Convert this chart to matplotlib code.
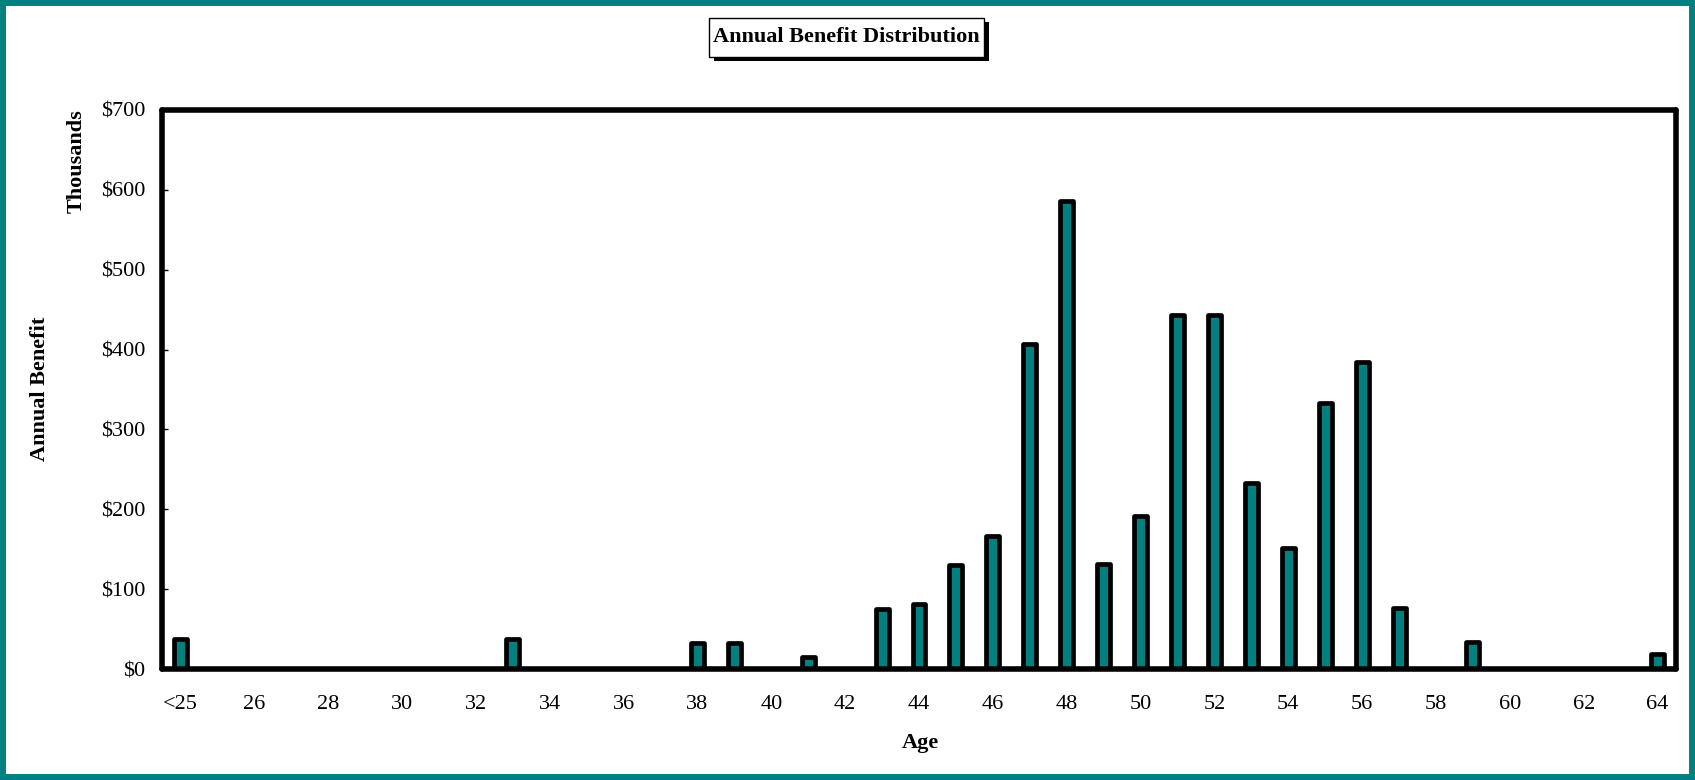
import matplotlib
matplotlib.use('Agg')
import matplotlib.pyplot as plt
from matplotlib.patches import Rectangle
import numpy as np

# annual benefit by age group, in thousands of dollars
ages = ['<25'] + [str(a) for a in range(25, 65)]
values = [37,                                  # <25
          0, 0, 0, 0, 0, 0, 0, 0,              # 25-32
          38,                                  # 33
          0, 0, 0, 0,                          # 34-37
          33, 33, 0, 15, 0, 75, 82, 130, 167,  # 38-46
          407, 586, 132, 192, 443, 443, 233,   # 47-53
          151, 333, 385, 77, 0, 34,            # 54-59
          0, 0, 0, 0,                          # 60-63
          19]                                  # 64
yticks = [0, 100, 200, 300, 400, 500, 600, 700]

teal = '#008080'
plt.rcParams['font.family'] = ['Liberation Serif', 'DejaVu Serif']

W, H = 1695, 780
fig = plt.figure(figsize=(W/100, H/100), dpi=100)
fig.patch.set_facecolor('white')

ax = fig.add_axes([162/W, 1-669/H, 1514/W, 559/H])
x = np.arange(len(ages))
bars = ax.bar(x, values, width=0.35, color=teal, edgecolor='black', linewidth=3.4, zorder=3)
for b in bars:
    b.set_joinstyle('round')
    if b.get_height() == 0:
        b.set_visible(False)

ax.set_xlim(-0.5, len(ages)-0.5)
ax.set_ylim(0, 700)
ax.set_yticks(yticks)
ax.set_yticklabels(['$%d' % v for v in yticks], fontsize=16)
ax.set_xticks(x[::2])
ax.set_xticklabels(ages[::2], fontsize=16)
ax.tick_params(axis='y', direction='in', length=4, width=1, pad=12)
ax.tick_params(axis='x', length=0, pad=19)
for s in ax.spines.values():
    s.set_linewidth(4)
    s.set_capstyle('round')
    s.set_zorder(4)

# axis titles
fig.text(40/W, 1-389/H, 'Annual Benefit', rotation=90, fontsize=16, fontweight='bold',
         ha='center', va='center')
fig.text(77/W, 1-161/H, 'Thousands', rotation=90, fontsize=16, fontweight='bold',
         ha='center', va='center')
fig.text(920/W, 1-743/H, 'Age', fontsize=16, fontweight='bold', ha='center', va='center')

# title box with drop shadow
bx0, bx1, by0, by1 = 709, 984, 18, 57
fig.patches.append(Rectangle(((bx0+5)/W, 1-(by1+4)/H), (bx1-bx0)/W, (by1-by0)/H,
                             transform=fig.transFigure, facecolor='black', edgecolor='none'))
fig.patches.append(Rectangle((bx0/W, 1-by1/H), (bx1-bx0)/W, (by1-by0)/H,
                             transform=fig.transFigure, facecolor='white', edgecolor='black',
                             linewidth=1))
fig.text((bx0+bx1)/2/W, 1-(by0+by1)/2/H, 'Annual Benefit Distribution', fontsize=16,
         fontweight='bold', ha='center', va='center')

# outer teal frame
fig.patches.append(Rectangle((0, 0), 1, 1, transform=fig.transFigure, facecolor='none',
                             edgecolor=teal, linewidth=8.6))

fig.savefig('out.png', dpi=100)
